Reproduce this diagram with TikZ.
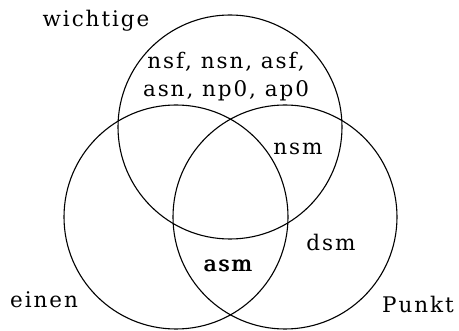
\documentclass[tikz,border=0pt]{standalone}
\usepackage{fontspec}
\setmainfont[LetterSpace=9]{DejaVu Serif}
\begin{document}
\begin{tikzpicture}[x=1pt,y=-1pt,
  ring/.style={draw=black, line width=1.1pt},
  lbl/.style={anchor=base, inner sep=0pt, font=\fontsize{21.5}{26}\selectfont}]
\useasboundingbox (0,0) rectangle (459,331);
% the three sets
\draw[ring] (230,127) circle[radius=112];
\draw[ring] (176,217) circle[radius=112];
\draw[ring] (285,217) circle[radius=112];
% set names
\node[lbl] (wichtige) at (96,27) {wichtige};
\node[lbl] (einen) at (44,308) {einen};
\node[lbl] (punkt) at (418,313) {Punkt};
% region contents
\node[lbl] (top1) at (226,69) {nsf, nsn, asf,};
\node[lbl] (top2) at (226,97) {asn, np0, ap0};
\node[lbl] (nsm) at (298,155) {nsm};
\node[lbl] (dsm) at (331,251) {dsm};
% the centre label is set twice, one copy shifted slightly
\node[lbl] (asm) at (227.5,272) {asm};
\node[lbl] (asmb) at (228.5,272) {asm};
\end{tikzpicture}
\end{document}
